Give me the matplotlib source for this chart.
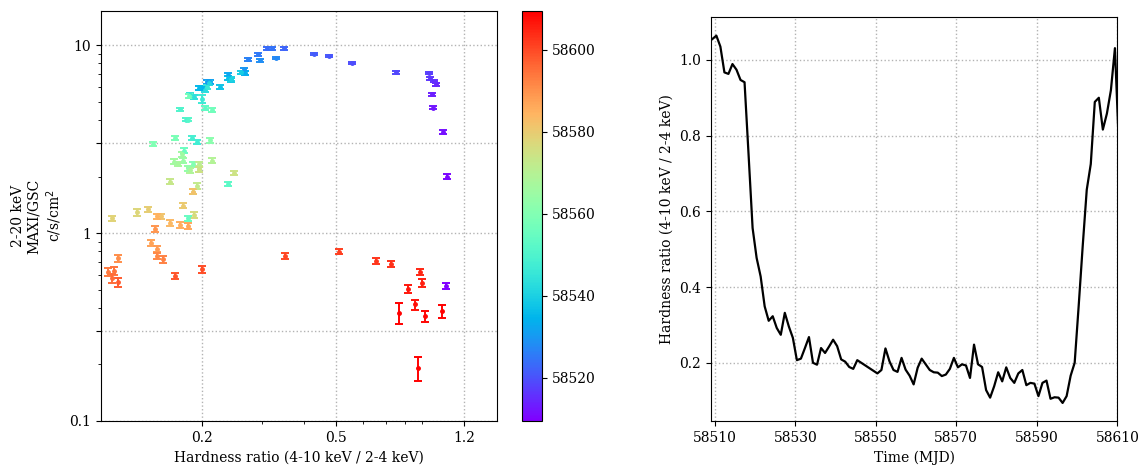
"""
Hardness-intensity diagram (MAXI/GSC) and hardness ratio light curve.
Left: 2-20 keV flux vs hardness, coloured by MJD. Right: hardness vs time.
"""

import numpy as np
import matplotlib
matplotlib.use("Agg")
import matplotlib.pyplot as plt
from matplotlib.colors import Normalize
from matplotlib.ticker import NullFormatter, FixedLocator

# ------------------------------------------------------------
# 1. Data (one entry per daily bin)
# ------------------------------------------------------------

mjd_start = 58509.4
n_days = 103
mjd = mjd_start + np.arange(n_days)

hardness = [
    1.055, 1.064, 1.035, 0.967, 0.963, 0.989, 0.974, 0.947, 0.941, 0.750,
    0.556, 0.477, 0.428, 0.349, 0.311, 0.323, 0.292, 0.274, 0.332, 0.296,
    0.266, 0.207, 0.211, 0.239, 0.268, 0.200, 0.195, 0.239, 0.226, 0.243,
    0.261, 0.244, 0.209, 0.203, 0.189, 0.184, 0.207, 0.200, 0.193, 0.186,
    0.179, 0.172, 0.181, 0.238, 0.204, 0.181, 0.176, 0.213, 0.182, 0.166,
    0.143, 0.187, 0.211, 0.196, 0.181, 0.175, 0.174, 0.165, 0.169, 0.184,
    0.213, 0.188, 0.196, 0.193, 0.160, 0.248, 0.196, 0.189, 0.128, 0.108,
    0.138, 0.175, 0.151, 0.188, 0.160, 0.147, 0.172, 0.181, 0.141, 0.147,
    0.145, 0.112, 0.147, 0.153, 0.105, 0.109, 0.108, 0.094, 0.112, 0.166,
    0.200, 0.351, 0.509, 0.657, 0.725, 0.889, 0.900, 0.816, 0.858, 0.920,
    1.031, 0.767, 0.877,
]

flux = [
    0.523, 1.99, 3.46, 4.64, 5.47, 6.18, 6.43, 6.65, 7.12, 7.18,
    8.05, 8.74, 8.99, 9.60, 9.60, 9.60, 8.93, 8.40, 8.56, 8.29,
    7.43, 6.35, 6.35, 6.98, 7.10, 5.93, 5.93, 6.70, 5.97, 6.51,
    7.18, 6.60, 6.30, 5.75, 5.29, 5.40, 5.97, 5.18, 3.06, 3.21,
    4.02, 4.55, 4.02, 1.83, 4.64, 1.20, 2.75, 4.51, 5.35, 3.19,
    2.98, 2.32, 3.11, 2.18, 2.21, 2.43, 2.62, 2.40, 2.34, 2.16,
    2.43, 1.66, 2.34, 1.78, 1.88, 2.09, 2.18, 1.25, 1.29, 1.20,
    1.34, 1.40, 1.23, 1.66, 1.13, 1.23, 1.11, 1.09, 0.885, 0.822,
    1.05, 0.733, 0.754, 0.727, 0.623, 0.628, 0.574, 0.580, 0.549, 0.593,
    0.641, 0.754, 0.795, 0.710, 0.681, 0.620, 0.544, 0.502, 0.417, 0.362,
    0.385, 0.377, 0.191,
]

flux_err = [
    0.02, 0.06, 0.08, 0.09, 0.10, 0.10, 0.10, 0.10, 0.12, 0.12,
    0.12, 0.14, 0.14, 0.15, 0.15, 0.15, 0.14, 0.13, 0.13, 0.13,
    0.15, 0.14, 0.14, 0.16, 0.16, 0.14, 0.14, 0.16, 0.14, 0.15,
    0.15, 0.15, 0.14, 0.14, 0.14, 0.14, 0.14, 0.25, 0.08, 0.08,
    0.09, 0.10, 0.09, 0.05, 0.10, 0.04, 0.07, 0.10, 0.12, 0.08,
    0.07, 0.07, 0.08, 0.07, 0.06, 0.07, 0.07, 0.07, 0.06, 0.06,
    0.07, 0.05, 0.06, 0.06, 0.06, 0.06, 0.06, 0.04, 0.05, 0.04,
    0.04, 0.04, 0.04, 0.05, 0.04, 0.04, 0.04, 0.04, 0.03, 0.03,
    0.04, 0.03, 0.03, 0.03, 0.03, 0.03, 0.03, 0.03, 0.03, 0.02,
    0.025, 0.025, 0.025, 0.025, 0.025, 0.025, 0.025, 0.025, 0.025, 0.025,
    0.03, 0.05, 0.028,
]

cbar_min = 58509.4
cbar_max = 58609.4

# ------------------------------------------------------------
# 2. Plot settings
# ------------------------------------------------------------

plt.rcParams["font.family"] = "DejaVu Serif"
plt.rcParams["font.size"] = 10

fig = plt.figure(figsize=(11.48, 4.66), dpi=100)

ax1 = fig.add_axes([0.0880, 0.0966, 0.3449, 0.8798])
cax = fig.add_axes([0.4547, 0.0966, 0.0174, 0.8798])
ax2 = fig.add_axes([0.6191, 0.0959, 0.3542, 0.8670])

cmap = plt.get_cmap("rainbow")
norm = Normalize(vmin=cbar_min, vmax=cbar_max)

# ------------------------------------------------------------
# 3. Hardness-intensity diagram
# ------------------------------------------------------------

for i in range(n_days):
    c = cmap(norm(mjd[i]))
    ax1.errorbar(
        hardness[i],
        flux[i],
        yerr=flux_err[i],
        fmt="o",
        color=c,
        markersize=2.5,
        elinewidth=1.4,
        capsize=2.6,
        capthick=1.4,
    )

ax1.set_xscale("log")
ax1.set_yscale("log")
ax1.set_xlim(0.1, 1.5)
ax1.set_ylim(0.1, 15.2)

ax1.xaxis.set_major_locator(FixedLocator([0.2, 0.5, 1.2]))
ax1.set_xticklabels(["0.2", "0.5", "1.2"])
ax1.xaxis.set_minor_formatter(NullFormatter())

ax1.yaxis.set_major_locator(FixedLocator([0.1, 0.3, 1, 3, 10]))
ax1.set_yticklabels(["0.1", "", "1", "", "10"])
ax1.yaxis.set_minor_formatter(NullFormatter())

ax1.grid(True, which="major", linestyle=":", color="0.7", linewidth=1)
ax1.set_xlabel("Hardness ratio (4-10 keV / 2-4 keV)")
ax1.set_ylabel("2-20 keV\nMAXI/GSC\nc/s/cm$^2$")

sm = plt.cm.ScalarMappable(cmap=cmap, norm=norm)
sm.set_array([])
cb = fig.colorbar(sm, cax=cax)
cb.set_ticks([58520, 58540, 58560, 58580, 58600])
cb.set_ticklabels(["58520", "58540", "58560", "58580", "58600"])

# ------------------------------------------------------------
# 4. Hardness ratio vs time
# ------------------------------------------------------------

ax2.plot(mjd, hardness, color="black", linewidth=1.6)
ax2.set_xlim(58509, 58610)
ax2.set_xticks([58510, 58530, 58550, 58570, 58590, 58610])
ax2.set_xticklabels(["58510", "58530", "58550", "58570", "58590", "58610"])
ax2.set_yticks([0.2, 0.4, 0.6, 0.8, 1.0])
ax2.grid(True, linestyle=":", color="0.7", linewidth=1)
ax2.set_xlabel("Time (MJD)")
ax2.set_ylabel("Hardness ratio (4-10 keV / 2-4 keV)")

fig.savefig("out.png", dpi=100)
plt.close(fig)
